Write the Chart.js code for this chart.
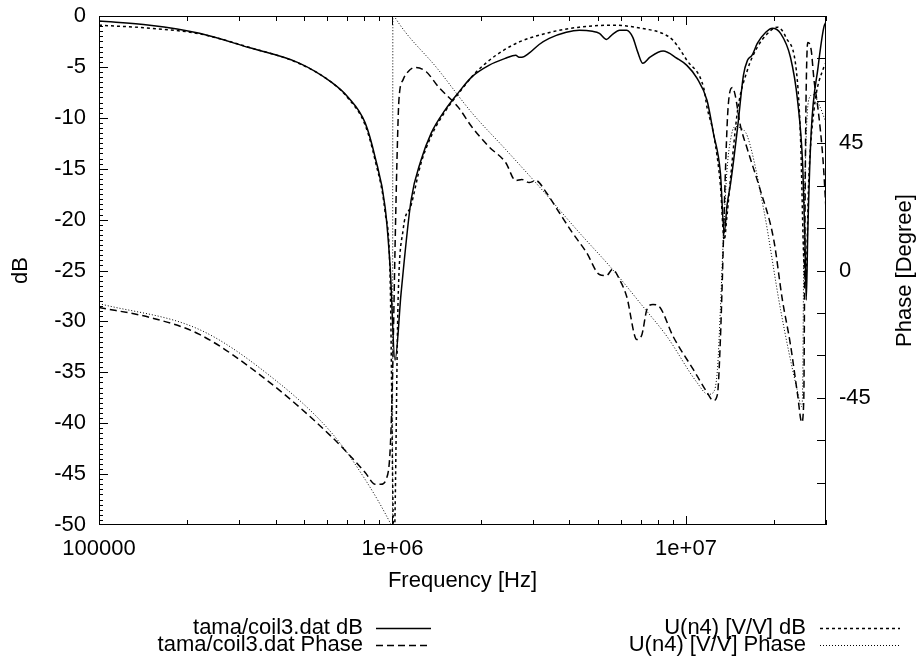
<!DOCTYPE html>
<html>
<head>
<meta charset="utf-8">
<script src="https://cdn.jsdelivr.net/npm/chart.js@4.4.1/dist/chart.umd.min.js"></script>
<style>
  html, body { margin: 0; padding: 0; background: #fff; }
  #wrap { width: 919px; height: 668px; }
</style>
</head>
<body>
<div id="wrap"><canvas id="chart" width="919" height="668"></canvas></div>
<script>
"use strict";

// tama/coil3.dat dB
const coilDbFreq = [1.0e5, 1.49e5, 2.2e5, 3.24e5, 4.79e5, 6.19e5, 7.07e5, 8.07e5, 8.73e5, 9.44e5,
  9.82e5, 1.02e6, 1.07e6, 1.157e6, 1.25e6, 1.355e6, 1.51e6, 1.68e6, 1.86e6, 2.13e6,
  2.43e6, 2.63e6, 2.70e6, 2.76e6, 2.92e6, 3.16e6, 3.42e6, 3.91e6, 4.33e6, 4.80e6,
  5.07e6, 5.36e6, 5.62e6, 5.94e6, 6.28e6, 6.59e6, 6.85e6, 7.13e6, 7.54e6, 8.36e6,
  9.31e6, 1.007e7, 1.09e7, 1.18e7, 1.24e7, 1.31e7, 1.35e7, 1.38e7, 1.42e7, 1.50e7,
  1.57e7, 1.62e7, 1.68e7, 1.75e7, 1.87e7, 1.97e7, 2.10e7, 2.27e7, 2.40e7, 2.50e7,
  2.54e7, 2.57e7, 2.60e7, 2.67e7, 2.82e7, 2.95e7, 3.0e7];
const coilDb = [-0.5, -0.9, -1.7, -3.1, -4.6, -6.5, -8.0, -10.5, -13.9, -18.8,
  -24.7, -33.8, -27.2, -18.1, -14.2, -11.5, -9.25, -7.5, -6.0, -4.85,
  -4.15, -3.85, -4.05, -4.05, -3.65, -2.8, -2.2, -1.6, -1.4, -1.5,
  -1.7, -2.3, -1.8, -1.4, -1.4, -2.1, -3.55, -4.65, -4.05, -3.45,
  -4.15, -4.85, -6.1, -8.3, -11.5, -15.4, -21.3, -18.6, -16.4, -10.9,
  -5.8, -4.35, -3.85, -2.7, -1.6, -1.2, -1.7, -4.05, -8.3, -14.8,
  -21.3, -27.9, -21.3, -11.5, -5.0, -1.1, -0.6];

// tama/coil3.dat Phase
const coilPhaseFreq = [1.0e5, 1.49e5, 2.2e5, 3.7e5, 6.19e5, 8.07e5, 8.73e5, 9.14e5, 9.51e5, 9.80e5,
  9.96e5, 1.008e6, 1.02e6, 1.036e6, 1.052e6, 1.087e6, 1.13e6, 1.194e6, 1.303e6, 1.432e6,
  1.68e6, 1.86e6, 2.13e6, 2.43e6, 2.63e6, 2.76e6, 2.92e6, 3.08e6, 3.34e6, 3.70e6,
  4.10e6, 4.58e6, 5.07e6, 5.36e6, 5.62e6, 5.94e6, 6.28e6, 6.80e6, 7.08e6, 7.36e6,
  7.72e6, 8.16e6, 9.04e6, 1.059e7, 1.18e7, 1.24e7, 1.28e7, 1.31e7, 1.33e7, 1.36e7,
  1.39e7, 1.44e7, 1.47e7, 1.53e7, 1.62e7, 1.79e7, 1.99e7, 2.13e7, 2.27e7, 2.40e7,
  2.48e7, 2.52e7, 2.54e7, 2.56e7, 2.60e7, 2.67e7, 2.73e7, 2.82e7, 2.93e7, 3.0e7];
const coilPhase = [-13.1, -16.6, -22.6, -38.5, -58.7, -71.4, -75.6, -75.6, -73.9, -65,
  -45.6, -20.9, 7.4, 39.2, 60.4, 67.5, 70.3, 71.8, 70.3, 65,
  57.6, 50.9, 43.8, 38.2, 31.8, 32.2, 31.1, 31.8, 27.6, 20.5,
  13.4, 6.4, -1.4, -1.8, 0.4, -3.2, -9.2, -24.4, -22.6, -13.8,
  -12.0, -13.1, -23.3, -35, -43.1, -46, -43.8, -24.4, -3.2, 32.2,
  56.9, 64.7, 62.2, 51.6, 42.8, 28.6, 11.0, -10.3, -26.2, -43.8,
  -53.7, -45.6, 7.4, 53.4, 80.6, 78.1, 67.5, 56.9, 39.2, 21.6];

// U(n4) [V/V] dB
const simDbFreq = [1.0e5, 1.49e5, 2.2e5, 3.24e5, 4.79e5, 6.19e5, 7.07e5, 8.07e5, 8.73e5, 9.44e5,
  9.82e5, 1.012e6, 1.045e6, 1.087e6, 1.157e6, 1.25e6, 1.355e6, 1.51e6, 1.68e6, 1.96e6,
  2.55e6, 3.34e6, 4.33e6, 5.62e6, 7.36e6, 8.3e6, 9.04e6, 1.007e7, 1.15e7, 1.18e7, 1.24e7,
  1.31e7, 1.35e7, 1.38e7, 1.42e7, 1.50e7, 1.62e7, 1.75e7, 1.90e7, 2.05e7, 2.19e7,
  2.39e7, 2.46e7, 2.52e7, 2.56e7, 2.62e7, 2.73e7, 2.95e7, 3.0e7];
const simDb = [-0.9, -1.2, -1.75, -3.07, -4.64, -6.5, -8.1, -10.7, -14.2, -19.3,
  -25.9, -52, -27.9, -21, -18.6, -14.5, -11.8, -9.4, -7.6, -5.3,
  -2.9, -1.7, -1.1, -0.9, -1.3, -1.7, -2.4, -4.35, -7.1, -9.0, -11.5,
  -16.6, -22.0, -19.6, -15.8, -9.25, -5.3, -3.07, -1.7, -1.1, -2.1,
  -6.0, -12.5, -24, -26, -16.1, -9.25, -5.0, -4.6];

// U(n4) [V/V] Phase
const simPhaseFreq = [1.0e5, 2.2e5, 3.7e5, 6.19e5, 8.07e5, 9.88e5, 1.0e6, 1.003e6, 1.02e6, 1.43e6,
  1.86e6, 2.43e6, 3.16e6, 4.33e6, 5.62e6, 7.13e6, 8.61e6, 1.09e7, 1.19e7, 1.24e7,
  1.28e7, 1.31e7, 1.34e7, 1.38e7, 1.43e7, 1.47e7, 1.53e7, 1.62e7, 1.84e7, 2.10e7,
  2.39e7, 2.48e7, 2.50e7, 2.52e7, 2.56e7, 2.62e7, 2.71e7, 2.84e7, 3.0e7];
const simPhase = [-11.7, -20.9, -36.1, -57.3, -73.9, -89.8, -91, 91, 89.5, 71.1,
  55.9, 42.8, 29.7, 13.4, 0.4, -12.7, -23.3, -39.6, -43.8, -43.1,
  -35, -13.8, 11, 35.7, 48.1, 50.9, 50.5, 47.4, 21.6, -13.8,
  -42, -48.1, -38.5, 7.4, 42.8, 60.4, 62.2, 58.7, 52.3];

const seriesLabels = ['tama/coil3.dat dB', 'tama/coil3.dat Phase', 'U(n4) [V/V] dB', 'U(n4) [V/V] Phase'];

const xTickValues = [1e5, 1e6, 1e7];
const xTickLabels = ['100000', '1e+06', '1e+07'];
const dbTickValues = [-50, -45, -40, -35, -30, -25, -20, -15, -10, -5, 0];
const phaseTickValues = [-45, 0, 45];

const FONT = "'Liberation Sans', Arial, Helvetica, sans-serif";

function points(xs, ys) {
  return xs.map((x, i) => ({ x: x, y: ys[i] }));
}

function noOverhang(s) {
  s.paddingTop = 0;
  s.paddingBottom = 0;
  s.paddingLeft = 0;
  s.paddingRight = 0;
}

// border, inward tick marks, right title and the key below the plot
const gnuplotFrame = {
  id: 'gnuplotFrame',
  afterDatasetsDraw(chart) {
    const { ctx, chartArea: a, scales } = chart;
    const x = scales.x, y = scales.y, y2 = scales.y2;
    ctx.save();
    ctx.strokeStyle = '#000';
    ctx.lineWidth = 1;
    ctx.beginPath();
    for (let d = 1e5; d <= 1e7; d *= 10) {
      for (let k = 1; k < 10; k++) {
        const v = k * d;
        if (v > x.max) break;
        const px = Math.round(x.getPixelForValue(v)) + 0.5;
        const len = k === 1 ? 9 : 5;
        ctx.moveTo(px, a.bottom); ctx.lineTo(px, a.bottom - len);
        ctx.moveTo(px, a.top); ctx.lineTo(px, a.top + len);
      }
    }
    for (let i = 1; i < 100; i++) {
      const py = Math.round(y.getPixelForValue(-50 + i * 0.5)) + 0.5;
      const len = i % 10 === 0 ? 9 : 4;
      ctx.moveTo(a.left, py); ctx.lineTo(a.left + len, py);
    }
    for (let v = -75; v <= 75; v += 15) {
      const py = Math.round(y2.getPixelForValue(v)) + 0.5;
      ctx.moveTo(a.right, py); ctx.lineTo(a.right - 9, py);
    }
    ctx.stroke();
    ctx.strokeRect(a.left + 0.5, a.top + 0.5, a.right - a.left - 1, a.bottom - a.top - 1);
    ctx.restore();
  },
  afterDraw(chart) {
    const { ctx, chartArea: a } = chart;
    ctx.save();
    ctx.fillStyle = '#000';
    ctx.font = '22px ' + FONT;
    ctx.textBaseline = 'middle';

    ctx.translate(905, (a.top + a.bottom) / 2);
    ctx.rotate(-Math.PI / 2);
    ctx.textAlign = 'center';
    ctx.fillText('Phase [Degree]', 0, 0);
    ctx.setTransform(1, 0, 0, 1, 0, 0);

    const colText = [363, 806];
    const colLine = [[376, 431], [820, 900]];
    const rowY = [628, 645];
    ctx.textAlign = 'right';
    chart.data.datasets.forEach((ds, i) => {
      const c = Math.floor(i / 2), r = i % 2;
      ctx.fillText(ds.label, colText[c], rowY[r]);
      ctx.beginPath();
      ctx.lineWidth = ds.borderWidth;
      ctx.setLineDash(ds.borderDash || []);
      ctx.moveTo(colLine[c][0], rowY[r] + 0.5);
      ctx.lineTo(colLine[c][1], rowY[r] + 0.5);
      ctx.stroke();
    });
    ctx.restore();
  }
};

const lineBase = {
  borderColor: '#000',
  backgroundColor: '#000',
  pointRadius: 0,
  fill: false,
  cubicInterpolationMode: 'monotone',
  xAxisID: 'x'
};

new Chart(document.getElementById('chart'), {
  type: 'line',
  data: {
    datasets: [
      Object.assign({}, lineBase, { label: seriesLabels[0], data: points(coilDbFreq, coilDb),
        yAxisID: 'y', borderWidth: 1.5, borderDash: [] }),
      Object.assign({}, lineBase, { label: seriesLabels[1], data: points(coilPhaseFreq, coilPhase),
        yAxisID: 'y2', borderWidth: 1.5, borderDash: [7, 4] }),
      Object.assign({}, lineBase, { label: seriesLabels[2], data: points(simDbFreq, simDb),
        yAxisID: 'y', borderWidth: 1.5, borderDash: [3, 3] }),
      Object.assign({}, lineBase, { label: seriesLabels[3], data: points(simPhaseFreq, simPhase),
        yAxisID: 'y2', borderWidth: 1, borderDash: [1, 2] })
    ]
  },
  options: {
    responsive: false,
    animation: false,
    devicePixelRatio: 1,
    layout: { padding: { top: 16, left: 0, right: 0, bottom: 0 } },
    plugins: { legend: { display: false }, tooltip: { enabled: false } },
    scales: {
      x: {
        type: 'logarithmic',
        position: 'bottom',
        min: 1e5,
        max: 3e7,
        grid: { display: false, drawTicks: false },
        border: { display: false },
        afterBuildTicks: (s) => { s.ticks = xTickValues.map(v => ({ value: v })); },
        afterFit: (s) => { s.height = 143; noOverhang(s); },
        ticks: {
          autoSkip: false,
          maxRotation: 0,
          padding: 11,
          color: '#000',
          font: { family: FONT, size: 22 },
          callback: (v, i) => xTickLabels[i]
        },
        title: {
          display: true,
          text: 'Frequency [Hz]',
          color: '#000',
          font: { family: FONT, size: 22 },
          padding: { top: 0, bottom: 74 }
        }
      },
      y: {
        type: 'linear',
        position: 'left',
        min: -50,
        max: 0,
        grid: { display: false, drawTicks: false },
        border: { display: false },
        afterBuildTicks: (s) => { s.ticks = dbTickValues.map(v => ({ value: v })); },
        afterFit: (s) => { s.width = 99; noOverhang(s); },
        ticks: {
          padding: 13,
          color: '#000',
          font: { family: FONT, size: 22 },
          callback: (v) => String(v)
        },
        title: {
          display: true,
          text: 'dB',
          color: '#000',
          font: { family: FONT, size: 22 },
          padding: { top: 8, bottom: 0 }
        }
      },
      y2: {
        type: 'linear',
        position: 'right',
        min: -90,
        max: 90,
        grid: { display: false, drawTicks: false },
        border: { display: false },
        afterBuildTicks: (s) => { s.ticks = phaseTickValues.map(v => ({ value: v })); },
        afterFit: (s) => { s.width = 93; noOverhang(s); },
        ticks: {
          padding: 13,
          color: '#000',
          font: { family: FONT, size: 22 },
          callback: (v) => String(v)
        }
      }
    }
  },
  plugins: [gnuplotFrame]
});
</script>
</body>
</html>
